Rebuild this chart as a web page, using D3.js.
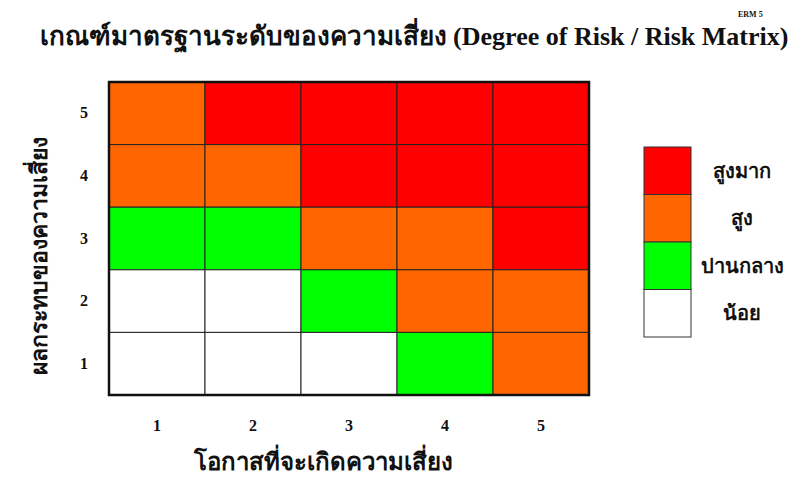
<!DOCTYPE html>
<html>
<head>
<meta charset="utf-8">
<script src="https://cdn.jsdelivr.net/npm/d3@7"></script>
<style>
body { margin: 0; background: #fff; }
text { font-family: "Liberation Serif", "Noto Sans", serif; }
</style>
</head>
<body>
<div class="chart"></div>
<script>
// size of the svg
var widthSVG = 802;
var heightSVG = 481;

// data
var likelihood = ["1", "2", "3", "4", "5"];
var impact = ["1", "2", "3", "4", "5"];
// level of each cell, rows from impact 5 (top) down to impact 1
var levels = [
	["high", "veryhigh", "veryhigh", "veryhigh", "veryhigh"],
	["high", "high", "veryhigh", "veryhigh", "veryhigh"],
	["medium", "medium", "high", "high", "veryhigh"],
	["low", "low", "medium", "high", "high"],
	["low", "low", "low", "medium", "high"]
];
var legendKeys = ["veryhigh", "high", "medium", "low"];
var legendNames = ["สูงมาก", "สูง", "ปานกลาง", "น้อย"];
var titulo = "เกณฑ์มาตรฐานระดับของความเสี่ยง (Degree of Risk / Risk Matrix)";
var xTitle = "โอกาสที่จะเกิดความเสี่ยง";
var yTitle = "ผลกระทบของความเสี่ยง";

var cor = d3.scaleOrdinal()
	.domain(legendKeys)
	.range(["#FF0000", "#FF6600", "#00FF00", "#FFFFFF"]);

var svg = d3.select(".chart")
	.append("svg")
	.attr("width", widthSVG)
	.attr("height", heightSVG);

//scales
var xScale = d3.scaleBand().domain(likelihood).range([109, 589]);
var yScale = d3.scaleBand().domain(impact.slice().reverse()).range([82, 395]);

//flatten the matrix into cells
var cells = [];
levels.forEach(function(row, i) {
	row.forEach(function(lv, j) {
		cells.push({ x: likelihood[j], y: impact[impact.length - 1 - i], level: lv });
	});
});

svg.selectAll(".cell")
	.data(cells)
	.enter()
	.append("rect")
	.attr("class", "cell")
	.attr("x", function(d) { return xScale(d.x); })
	.attr("y", function(d) { return yScale(d.y); })
	.attr("width", xScale.bandwidth())
	.attr("height", yScale.bandwidth())
	.attr("fill", function(d) { return cor(d.level); })
	.attr("stroke", "#222")
	.attr("stroke-width", 1);

//outer border
svg.append("rect")
	.attr("x", 109)
	.attr("y", 82)
	.attr("width", 480)
	.attr("height", 313)
	.attr("fill", "none")
	.attr("stroke", "#111")
	.attr("stroke-width", 2.5);

//axes (only labels, no lines)
var x_axis = d3.axisBottom(xScale).tickSize(0).tickPadding(0);
var gx = svg.append("g")
	.attr("transform", "translate(0,420)")
	.call(x_axis);
gx.select(".domain").remove();
gx.selectAll("text")
	.style("font-family", "Liberation Serif")
	.style("font-size", "16px")
	.style("font-weight", "bold")
	.attr("fill", "#111");

var y_axis = d3.axisLeft(yScale).tickSize(0).tickPadding(0);
var gy = svg.append("g")
	.attr("transform", "translate(88,0)")
	.call(y_axis);
gy.select(".domain").remove();
gy.selectAll("text")
	.style("font-family", "Liberation Serif")
	.style("font-size", "16px")
	.style("font-weight", "bold")
	.attr("fill", "#111");

// axis titles
svg.append("text")
	.attr("text-anchor", "middle")
	.attr("x", 323)
	.attr("y", 470)
	.style("font-size", "24px")
	.style("font-weight", "bold")
	.attr("fill", "#111")
	.text(xTitle);

svg.append("text")
	.attr("text-anchor", "middle")
	.attr("transform", "translate(47,256) rotate(-90)")
	.style("font-size", "23px")
	.style("font-weight", "bold")
	.attr("fill", "#111")
	.text(yTitle);

//Title
svg.append("text")
	.attr("text-anchor", "middle")
	.attr("x", 414)
	.attr("y", 45)
	.style("font-size", "26px")
	.style("font-weight", "bold")
	.attr("fill", "#111")
	.text(titulo);

svg.append("text")
	.attr("x", 738)
	.attr("y", 17)
	.style("font-size", "8px")
	.style("font-weight", "bold")
	.attr("fill", "#111")
	.text("ERM 5");

//Legend
var legScale = d3.scaleBand().domain(legendKeys).range([147, 337]);
var legenda = svg.append("g")
	.selectAll(".legendas")
	.data(legendKeys)
	.enter()
	.append("g")
	.attr("class", "legendas")
	.attr("transform", function(d) { return "translate(644," + legScale(d) + ")"; });

legenda.append("rect")
	.attr("width", 47)
	.attr("height", legScale.bandwidth())
	.attr("fill", function(d) { return cor(d); })
	.attr("stroke", "#333")
	.attr("stroke-width", 1);

legenda.append("text")
	.attr("x", 98)
	.attr("y", legScale.bandwidth() / 2 + 7)
	.attr("text-anchor", "middle")
	.style("font-size", "20px")
	.style("font-weight", "bold")
	.attr("fill", "#111")
	.text(function(d, i) { return legendNames[i]; });
</script>
</body>
</html>
